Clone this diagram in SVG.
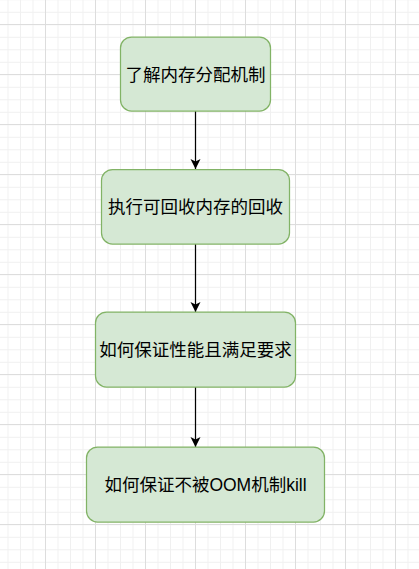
<svg xmlns="http://www.w3.org/2000/svg" width="419" height="569" viewBox="0 0 419 569">
<defs>
<pattern id="minor" patternUnits="userSpaceOnUse" x="7.5" y="11.8" width="12.5" height="12.5">
<path d="M0.5 0V12.5M0 0.5H12.5" stroke="#f0f0f0" stroke-width="1" fill="none"/>
</pattern>
<pattern id="major" patternUnits="userSpaceOnUse" x="45" y="24" width="50" height="50">
<path d="M0.5 0V50M0 0.5H50" stroke="#dddddd" stroke-width="1" fill="none"/>
</pattern>
<marker id="arrow" markerUnits="userSpaceOnUse" markerWidth="12" markerHeight="12" viewBox="0 0 12 12" refX="11" refY="6" orient="auto">
<path d="M1,1 L11,6 L1,11 L3.5,6 Z" fill="#000"/>
</marker>
<style>
.node rect{fill:#d5e8d4;stroke:#82b366;stroke-width:1.25}
.node text{font-family:"Liberation Sans","Noto Sans CJK SC",sans-serif;font-size:17.5px;fill:#000;text-anchor:middle}
.edge{stroke:#000;stroke-width:1.25;fill:none;marker-end:url(#arrow)}
</style>
</defs>
<rect width="419" height="569" fill="#fff"/>
<rect width="419" height="569" fill="url(#minor)"/>
<rect width="419" height="569" fill="url(#major)"/>
<g id="connectors">
<path class="edge" d="M195.5 111V169"/>
<path class="edge" d="M195.5 244V312"/>
<path class="edge" d="M195.5 387V447"/>
</g>
<g id="node1" class="node">
<rect x="120.5" y="37" width="150" height="74" rx="11"/>
<text x="195.5" y="80.5">了解内存分配机制</text>
</g>
<g id="node2" class="node">
<rect x="101.5" y="169.5" width="188" height="74.5" rx="11"/>
<text x="195.5" y="213">执行可回收内存的回收</text>
</g>
<g id="node3" class="node">
<rect x="95.5" y="312" width="200" height="75" rx="11"/>
<text x="195.5" y="356">如何保证性能且满足要求</text>
</g>
<g id="node4" class="node">
<rect x="86.5" y="447" width="238" height="75" rx="11"/>
<text x="205.5" y="491">如何保证不被OOM机制kill</text>
</g>
</svg>
